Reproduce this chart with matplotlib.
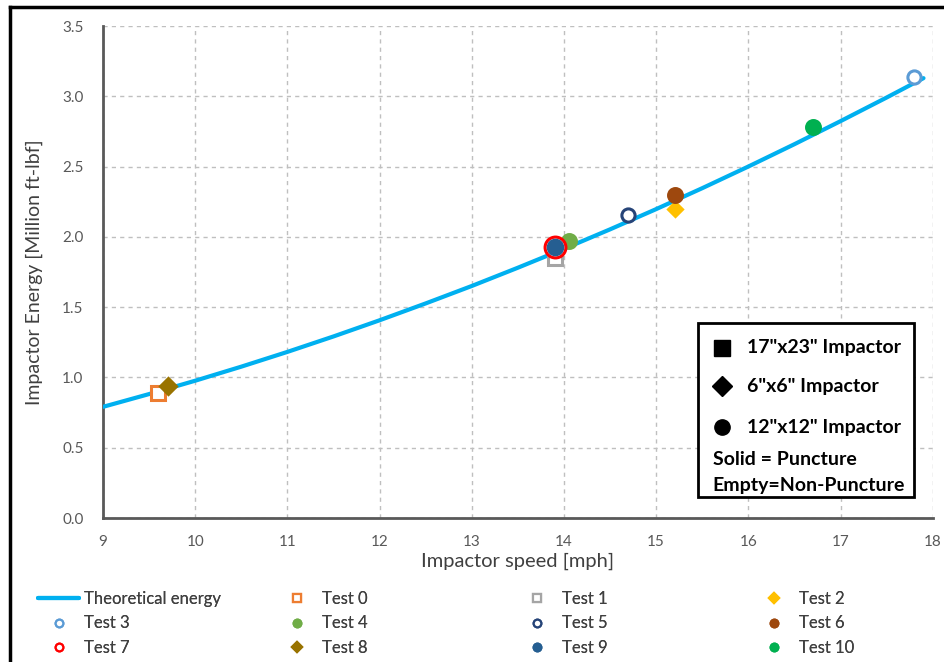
import matplotlib.pyplot as plt
from matplotlib.lines import Line2D
from matplotlib.patches import Rectangle

plt.rcParams['font.family'] = ['Lato', 'DejaVu Sans']

# theoretical energy curve
curve_speed = [9.0, 9.5, 10.0, 10.5, 11.0, 11.5, 12.0, 12.5, 13.0, 13.5, 14.0,
               14.5, 15.0, 15.5, 16.0, 16.5, 17.0, 17.5, 17.9]
curve_energy = [0.791, 0.882, 0.977, 1.077, 1.182, 1.292, 1.407, 1.527, 1.651,
                1.781, 1.915, 2.054, 2.198, 2.347, 2.501, 2.660, 2.824, 2.992, 3.130]

# tests
test_names = ['Test 0', 'Test 1', 'Test 2', 'Test 3', 'Test 4', 'Test 5',
              'Test 6', 'Test 7', 'Test 8', 'Test 9', 'Test 10']
test_speed = [9.6, 13.9, 15.2, 17.8, 14.05, 14.7, 15.2, 13.9, 9.7, 13.9, 16.7]
test_energy = [0.89, 1.85, 2.20, 3.14, 1.97, 2.155, 2.30, 1.93, 0.94, 1.93, 2.78]
test_marker = ['s', 's', 'D', 'o', 'o', 'o', 'o', 'o', 'D', 'o', 'o']
test_color = ['#ED7D31', '#A5A5A5', '#FFC000', '#5B9BD5', '#70AD47', '#264478',
              '#9E480E', '#FF0000', '#997300', '#255E91', '#00B050']
test_filled = [False, False, True, False, True, False, True, False, True, True, True]
test_size = [10.5, 10, 7, 9.5, 10, 9.5, 10, 15, 8, 10.5, 10]
draw_order = [0, 8, 4, 1, 7, 9, 5, 2, 6, 10, 3]

fig = plt.figure(figsize=(9.45, 6.62), dpi=100)
ax = fig.add_axes([0.109, 0.2175, 0.878, 0.743])

line, = ax.plot(curve_speed, curve_energy, color='#00B0F0', lw=3,
                solid_capstyle='round', zorder=3, label='Theoretical energy')

handles = {}
for i in draw_order:
    c = test_color[i]
    ax.plot(test_speed[i], test_energy[i], linestyle='none', marker=test_marker[i],
            markersize=test_size[i], markeredgecolor=c,
            markerfacecolor=c if test_filled[i] else 'white',
            markeredgewidth=2.2, zorder=4 + i * 0.01)
    handles[i] = Line2D([], [], linestyle='none', marker=test_marker[i],
                        markersize=5.5 if test_marker[i] != 'D' else 5,
                        markeredgecolor=c,
                        markerfacecolor=c if test_filled[i] else 'white',
                        markeredgewidth=1.6, label=test_names[i])

ax.set_xlim(9, 18)
ax.set_ylim(0, 3.5)
ax.set_xticks(range(9, 19))
ax.set_yticks([0, 0.5, 1.0, 1.5, 2.0, 2.5, 3.0, 3.5])
ax.set_yticklabels(['%.1f' % v for v in ax.get_yticks()])
ax.grid(True, color='#BFBFBF', linestyle=(0, (3, 3)), lw=1)
ax.set_axisbelow(True)
for s in ['top', 'right']:
    ax.spines[s].set_visible(False)
for s in ['left', 'bottom']:
    ax.spines[s].set_color('#595959')
    ax.spines[s].set_linewidth(2)
ax.tick_params(axis='x', length=0, labelsize=11, labelcolor='#595959', pad=12)
ax.tick_params(axis='y', length=0, labelsize=11, labelcolor='#595959', pad=14)
ax.set_xlabel('Impactor speed [mph]', fontsize=14.5, color='#404040', labelpad=3)
ax.set_ylabel('Impactor Energy [Million ft-lbf]', fontsize=14, color='#404040',
              labelpad=14)

# key box for impactor shapes
ax.add_patch(Rectangle((0.717, 0.043), 0.261, 0.353, transform=ax.transAxes,
                       facecolor='white', edgecolor='black', lw=2, zorder=6))
key_marker = ['s', 'D', 'o']
key_text = ['17"x23" Impactor', '6"x6" Impactor', '12"x12" Impactor']
key_y = [0.346, 0.268, 0.185]
for m, t, y in zip(key_marker, key_text, key_y):
    ax.plot(0.746, y, marker=m, color='black', markersize=11 if m != 'D' else 10,
            transform=ax.transAxes, zorder=7, clip_on=False)
    ax.text(0.776, y, t, transform=ax.transAxes, fontsize=14, fontweight='bold',
            va='center', ha='left', color='black', zorder=7)
ax.text(0.735, 0.118, 'Solid = Puncture', transform=ax.transAxes, fontsize=14,
        fontweight='bold', va='center', zorder=7)
ax.text(0.735, 0.067, 'Empty=Non-Puncture', transform=ax.transAxes, fontsize=14,
        fontweight='bold', va='center', zorder=7)

# bottom legend, one legend per column
columns = [[line, handles[3], handles[7]],
           [handles[0], handles[4], handles[8]],
           [handles[1], handles[5], handles[9]],
           [handles[2], handles[6], handles[10]]]
col_x = [0.040, 0.3055, 0.5595, 0.810]
for k, (hs, x) in enumerate(zip(columns, col_x)):
    leg = fig.legend(handles=hs, loc='upper left', bbox_to_anchor=(x, 0.107),
                     frameon=False, fontsize=12, labelcolor='#404040',
                     handlelength=2.5 if k == 0 else 1.0,
                     handletextpad=0.3 if k == 0 else 1.0,
                     labelspacing=0.5, borderaxespad=0, borderpad=0)
    fig.add_artist(leg)

# outer frame
fig.add_artist(Line2D([0.011, 0.011], [0, 0.99], color='black', lw=2.5,
                      transform=fig.transFigure))
fig.add_artist(Line2D([0.011, 1.0], [0.99, 0.99], color='black', lw=2.5,
                      transform=fig.transFigure))

fig.savefig('out.png', dpi=100)
